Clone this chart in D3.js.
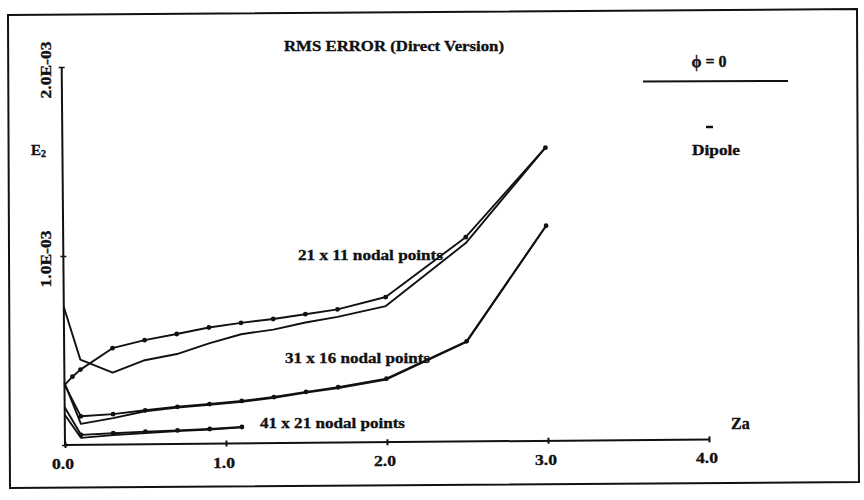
<!DOCTYPE html>
<html>
<head>
<meta charset="utf-8">
<script src="https://cdn.jsdelivr.net/npm/d3@7"></script>
<style>
  body { margin: 0; background: #fff; }
  svg text { font-family: "Liberation Serif", "Times New Roman", serif; font-weight: bold; fill: #111; stroke: #111; stroke-width: 0.35px; }
</style>
</head>
<body>
<div id="chart"></div>
<script>
// Za positions and E2 values (units of 1E-03)
var zaMarked21 = [0, 0.05, 0.1, 0.3, 0.5, 0.7, 0.9, 1.1, 1.3, 1.5, 1.7, 2.0, 2.5, 3.0];
var e2Marked21 = [0.317, 0.361, 0.398, 0.510, 0.551, 0.582, 0.615, 0.638, 0.657, 0.681, 0.705, 0.768, 1.081, 1.551];

var zaDipole21 = [0, 0.1, 0.3, 0.5, 0.7, 0.9, 1.1, 1.3, 1.5, 1.7, 2.0, 2.5, 3.0];
var e2Dipole21 = [0.730, 0.451, 0.381, 0.445, 0.476, 0.531, 0.578, 0.601, 0.637, 0.665, 0.720, 1.050, 1.551];

var zaMarked31 = [0, 0.1, 0.3, 0.5, 0.7, 0.9, 1.1, 1.3, 1.5, 1.7, 2.0, 2.5, 3.0];
var e2Marked31 = [0.320, 0.151, 0.161, 0.180, 0.197, 0.210, 0.225, 0.244, 0.270, 0.293, 0.336, 0.530, 1.138];

var zaDipole31 = [0, 0.1, 0.3, 0.5, 0.7, 0.9, 1.1, 1.3, 1.5, 1.7, 2.0, 2.5, 3.0];
var e2Dipole31 = [0.330, 0.111, 0.140, 0.175, 0.193, 0.206, 0.221, 0.240, 0.266, 0.289, 0.332, 0.527, 1.138];

var zaMarked41 = [0, 0.1, 0.3, 0.5, 0.7, 0.9, 1.1];
var e2Marked41 = [0.200, 0.053, 0.060, 0.067, 0.072, 0.078, 0.087];

var zaDipole41 = [0, 0.1, 0.3, 0.5, 0.7, 0.9, 1.1];
var e2Dipole41 = [0.160, 0.037, 0.050, 0.060, 0.068, 0.075, 0.085];

var xTicks = [0, 1, 2, 3, 4];
var yTicks = [0, 1, 2];
var xTickLabels = ["0.0", "1.0", "2.0", "3.0", "4.0"];
var yTickLabels = ["1.0E-03", "2.0E-03"];
var curveLabels = ["21 x 11 nodal points", "31 x 16 nodal points", "41 x 21 nodal points"];

var width = 864, height = 500;
var origin = {x: 65, y: 445};

var svg = d3.select("#chart").append("svg")
    .attr("width", width)
    .attr("height", height);

// hand drawn frame (slightly skewed like the scan)
svg.append("path")
    .attr("d", "M8,15 L857,9 L859,482 L10,488 Z")
    .attr("fill", "none")
    .attr("stroke", "#111")
    .attr("stroke-width", 2);

var xScale = d3.scaleLinear().domain([0, 4]).range([origin.x, 709]);
var yScale = d3.scaleLinear().domain([0, 2]).range([origin.y, 67]);

// the scanned plot is tilted a little
var plot = svg.append("g")
    .attr("transform", "rotate(-0.5," + origin.x + "," + origin.y + ")");

// x-axis
plot.append("g")
    .attr("transform", "translate(0," + origin.y + ")")
    .call(d3.axisBottom(xScale).tickValues(xTicks).tickSize(3).tickFormat(""))
    .call(function (g) {
        g.select(".domain").attr("stroke", "#111").attr("stroke-width", 2).attr("d", "M" + origin.x + ",0H709");
        g.selectAll(".tick line").attr("stroke", "#111").attr("stroke-width", 2).attr("y1", -3);
    });

// y-axis
plot.append("g")
    .attr("transform", "translate(" + origin.x + ",0)")
    .call(d3.axisLeft(yScale).tickValues(yTicks).tickSize(3).tickFormat(""))
    .call(function (g) {
        g.select(".domain").attr("stroke", "#111").attr("stroke-width", 2).attr("d", "M0," + origin.y + "V67");
        g.selectAll(".tick line").attr("stroke", "#111").attr("stroke-width", 1.6).attr("x1", 3);
    });

var series = [
    {za: zaMarked21, e2: e2Marked21, dots: true},
    {za: zaDipole21, e2: e2Dipole21, dots: false},
    {za: zaMarked31, e2: e2Marked31, dots: true},
    {za: zaDipole31, e2: e2Dipole31, dots: false},
    {za: zaMarked41, e2: e2Marked41, dots: true},
    {za: zaDipole41, e2: e2Dipole41, dots: false}
];

var line = d3.line()
    .x(function (d) { return xScale(d[0]); })
    .y(function (d) { return yScale(d[1]); });

series.forEach(function (s) {
    var pts = s.za.map(function (z, i) { return [z, s.e2[i]]; });
    plot.append("path")
        .datum(pts)
        .attr("d", line)
        .attr("fill", "none")
        .attr("stroke", "#111")
        .attr("stroke-width", 1.9)
        .attr("stroke-linejoin", "round");
    if (s.dots) {
        plot.selectAll(null)
            .data(pts.slice(1))
            .enter().append("circle")
            .attr("cx", function (d) { return xScale(d[0]); })
            .attr("cy", function (d) { return yScale(d[1]); })
            .attr("r", 2.4)
            .attr("fill", "#111");
    }
});

// tick labels
svg.selectAll(".xlab")
    .data(xTicks)
    .enter().append("text")
    .attr("class", "xlab")
    .attr("x", function (d) { return xScale(d) - 2; })
    .attr("y", function (d) { return 469 - d * 1.4; })
    .attr("text-anchor", "middle")
    .attr("font-size", 15)
    .attr("textLength", 22)
    .attr("lengthAdjust", "spacingAndGlyphs")
    .text(function (d, i) { return xTickLabels[i]; });

svg.selectAll(".ylab")
    .data(yTicks.slice(1))
    .enter().append("text")
    .attr("class", "ylab")
    .attr("transform", function (d) { return "translate(51," + (yScale(d) + 3) + ") rotate(-90)"; })
    .attr("text-anchor", "middle")
    .attr("font-size", 15)
    .attr("textLength", 57)
    .attr("lengthAdjust", "spacingAndGlyphs")
    .text(function (d, i) { return yTickLabels[i]; });

// axis titles
var e2 = svg.append("text").attr("x", 31).attr("y", 155).attr("font-size", 15).text("E");
e2.append("tspan").attr("font-size", 10).attr("dy", 2).text("2");
svg.append("text").attr("x", 731).attr("y", 429).attr("font-size", 16).text("Za");

// title
svg.append("text")
    .attr("x", 394).attr("y", 51)
    .attr("text-anchor", "middle")
    .attr("font-size", 15)
    .attr("textLength", 220)
    .attr("lengthAdjust", "spacingAndGlyphs")
    .text("RMS ERROR (Direct Version)");

// curve labels
var labelPos = [[298, 260], [285, 363], [260, 428]];
svg.selectAll(".clab")
    .data(curveLabels)
    .enter().append("text")
    .attr("class", "clab")
    .attr("x", function (d, i) { return labelPos[i][0]; })
    .attr("y", function (d, i) { return labelPos[i][1]; })
    .attr("font-size", 15)
    .attr("textLength", 145)
    .attr("lengthAdjust", "spacingAndGlyphs")
    .text(function (d) { return d; });

// legend block
svg.append("text").attr("x", 709).attr("y", 67).attr("text-anchor", "middle")
    .attr("font-size", 16).text("\u03d5 = 0");
svg.append("line").attr("x1", 643).attr("x2", 788).attr("y1", 81.5).attr("y2", 81)
    .attr("stroke", "#111").attr("stroke-width", 2);
svg.append("line").attr("x1", 706).attr("x2", 713).attr("y1", 127).attr("y2", 127)
    .attr("stroke", "#111").attr("stroke-width", 2.5);
svg.append("text").attr("x", 716).attr("y", 155).attr("text-anchor", "middle")
    .attr("font-size", 15).attr("textLength", 48).attr("lengthAdjust", "spacingAndGlyphs")
    .text("Dipole");
</script>
</body>
</html>
